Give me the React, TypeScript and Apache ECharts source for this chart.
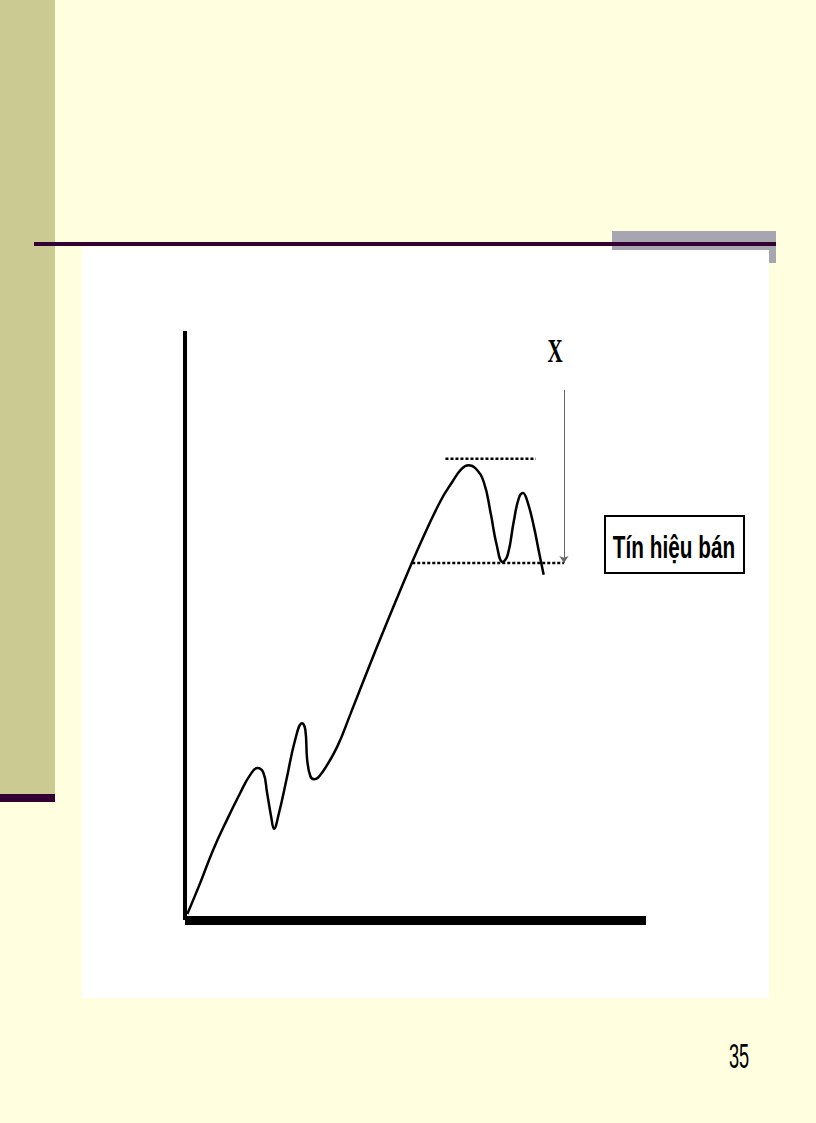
import { useEffect, useRef } from "react";
import * as echarts from "echarts";

// price path (x: time 0-100, y: price 0-100)
const curveX = [0.5, 3.3, 6.1, 9.1, 12.0, 14.1, 15.7, 17.0, 17.8, 18.7, 19.3, 20.4, 22.0, 23.9, 25.4, 26.1, 26.5, 27.2, 28.0, 29.8, 33.0, 35.9, 41.3, 46.7, 51.1, 55.4, 58.0, 60.0, 61.5, 63.0, 64.8, 66.3, 67.6, 68.9, 70.0, 71.3, 72.4, 73.3, 74.3, 75.7, 76.7, 77.8];
const curveY = [1.0, 6.3, 11.9, 17.0, 21.6, 24.6, 25.8, 25.0, 21.6, 17.5, 15.5, 18.2, 23.8, 30.6, 33.4, 32.3, 27.2, 24.4, 23.9, 25.1, 29.4, 35.0, 45.7, 56.0, 64.0, 71.1, 74.4, 76.6, 77.2, 76.7, 74.4, 69.1, 63.7, 60.8, 62.0, 67.6, 71.6, 72.5, 71.0, 66.7, 62.8, 58.6];

// dotted levels: [level, from, to]
const topLine = [78.3, 56.5, 76.1];
const neckLine = [60.6, 49.3, 82.2];

// measure arrow: [x, from, to]
const arrow = [82.2, 90.0, 60.6];

const signalLabel = "Tín hiệu bán";
const measureLabel = "X";
const pageNumber = "35";

export default function App() {
  const chartRef = useRef<HTMLDivElement>(null);

  useEffect(() => {
    if (!chartRef.current) return;
    const chart = echarts.init(chartRef.current, undefined, { renderer: "svg" });

    const dotted = {
      type: [3, 2] as number[],
      width: 2.5,
      cap: "butt" as const,
      color: "#000"
    };

    const option: echarts.EChartsOption = {
      animation: false,
      backgroundColor: "#FFFFDF",
      grid: { left: 185, top: 331, right: 170, bottom: 203 },
      xAxis: {
        type: "value",
        min: 0,
        max: 100,
        z: 3,
        axisLine: { show: true, lineStyle: { color: "#000", width: 9, cap: "butt" } },
        axisTick: { show: false },
        axisLabel: { show: false },
        splitLine: { show: false }
      },
      yAxis: {
        type: "value",
        min: 0,
        max: 100,
        z: 3,
        axisLine: { show: true, lineStyle: { color: "#000", width: 4, cap: "butt" } },
        axisTick: { show: false },
        axisLabel: { show: false },
        splitLine: { show: false }
      },
      graphic: {
        elements: [
          { type: "rect", z: 0, shape: { x: 0, y: 0, width: 55, height: 794 }, style: { fill: "#CACA92" } },
          { type: "rect", z: 0, shape: { x: 0, y: 794, width: 55, height: 8 }, style: { fill: "#330033" } },
          { type: "rect", z: 0, shape: { x: 82, y: 247, width: 687, height: 751 }, style: { fill: "#FFFFFF" } },
          { type: "rect", z: 0, shape: { x: 612, y: 231, width: 164, height: 19 }, style: { fill: "#A7A5AF" } },
          { type: "rect", z: 0, shape: { x: 769, y: 250, width: 7, height: 13 }, style: { fill: "#A7A5AF" } },
          { type: "rect", z: 0, shape: { x: 34, y: 242, width: 742, height: 4 }, style: { fill: "#330033" } },
          {
            type: "text",
            z: 10,
            x: 555,
            y: 351,
            scaleX: 0.62,
            style: {
              text: measureLabel,
              fill: "#000",
              font: "bold 34px 'Liberation Serif', serif",
              textAlign: "center",
              textVerticalAlign: "middle"
            }
          },
          {
            type: "rect",
            z: 10,
            shape: { x: 605, y: 516, width: 139, height: 57 },
            style: { fill: "#fff", stroke: "#000", lineWidth: 2 }
          },
          {
            type: "text",
            z: 11,
            x: 674,
            y: 547,
            scaleX: 0.67,
            style: {
              text: signalLabel,
              fill: "#000",
              font: "bold 31px 'Liberation Sans', Arial, sans-serif",
              textAlign: "center",
              textVerticalAlign: "middle"
            }
          },
          {
            type: "text",
            z: 10,
            x: 739,
            y: 1056,
            scaleX: 0.52,
            style: {
              text: pageNumber,
              fill: "#000",
              font: "normal 35px 'Liberation Sans', Arial, sans-serif",
              textAlign: "center",
              textVerticalAlign: "middle"
            }
          }
        ]
      },
      series: [
        {
          type: "line",
          z: 4,
          data: curveX.map((x, i) => [x, curveY[i]]),
          smooth: 0.45,
          symbol: "none",
          lineStyle: { color: "#000", width: 2.5 },
          markLine: {
            silent: true,
            symbol: ["none", "arrow"],
            symbolSize: 7,
            label: { show: false },
            lineStyle: { color: "#666", width: 1, type: "solid" },
            data: [[{ coord: [arrow[0], arrow[1]] }, { coord: [arrow[0], arrow[2]] }]]
          }
        },
        {
          type: "line",
          z: 4,
          data: [[topLine[1], topLine[0]], [topLine[2], topLine[0]]],
          symbol: "none",
          lineStyle: dotted
        },
        {
          type: "line",
          z: 4,
          data: [[neckLine[1], neckLine[0]], [neckLine[2], neckLine[0]]],
          symbol: "none",
          lineStyle: dotted
        }
      ]
    };

    chart.setOption(option);

    return () => {
      chart.dispose();
    };
  }, []);

  return (
    <div
      ref={chartRef}
      style={{ position: "absolute", left: 0, top: 0, width: "816px", height: "1123px" }}
    />
  );
}
